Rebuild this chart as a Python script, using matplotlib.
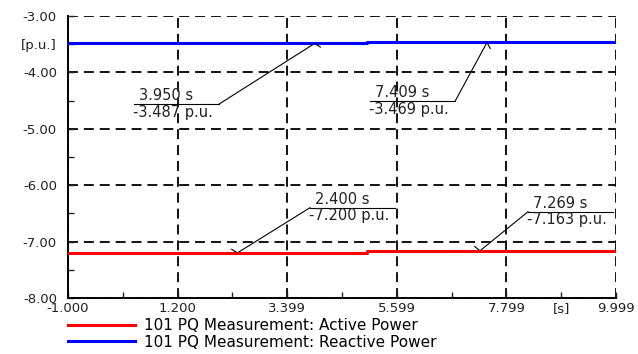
import matplotlib.pyplot as plt
import numpy as np

plt.rcParams['font.family'] = ['DejaVu Sans']

# ---- data ----
t_pts = [-1.0, 5.0, 9.999]
active_power = [-7.200, -7.163, -7.163]
reactive_power = [-3.487, -3.469, -3.469]

x_ticks = [-1.0, 1.2, 3.399, 5.599, 7.799, 9.999]
x_labels = ['-1.000', '1.200', '3.399', '5.599', '7.799', '9.999']
y_ticks = [-3.0, -4.0, -5.0, -6.0, -7.0, -8.0]

# cursor annotations: time, value
cur_t = [3.950, 7.409, 2.400, 7.269]
cur_v = [-3.487, -3.469, -7.200, -7.163]
# label box (left x, line y) in data units
box_x = [0.325, 5.062, 3.857, 8.233]
box_y = [-4.560, -4.507, -6.399, -6.470]
box_w = 1.71

# ---- figure ----
W, H = 638, 354
fig = plt.figure(figsize=(W / 100, H / 100), dpi=100)
ax = fig.add_axes([68 / W, 1 - 298 / H, (616 - 68) / W, (298 - 16) / H])

ax.plot(t_pts, active_power, drawstyle='steps-post', color='#ff0000', lw=2.2,
        label='101 PQ Measurement: Active Power', zorder=3)
ax.plot(t_pts, reactive_power, drawstyle='steps-post', color='#0000ff', lw=2.2,
        label='101 PQ Measurement: Reactive Power', zorder=3)

ax.set_xlim(-1.0, 9.999)
ax.set_ylim(-8.0, -3.0)

ax.set_xticks(x_ticks)
ax.set_xticklabels(x_labels)
ax.set_yticks(y_ticks)
ax.set_yticklabels(['%.2f' % v for v in y_ticks])

x_minor = [(a + b) / 2 for a, b in zip(x_ticks[:-1], x_ticks[1:])]
y_minor = [(a + b) / 2 for a, b in zip(y_ticks[:-1], y_ticks[1:])]
ax.set_xticks(x_minor, minor=True)
ax.set_xticklabels(['' if i < len(x_minor) - 1 else '[s]' for i in range(len(x_minor))],
                   minor=True)
ax.set_yticks(y_minor, minor=True)
ax.set_yticklabels(['[p.u.]' if i == 0 else '' for i in range(len(y_minor))], minor=True)

ax.tick_params(which='both', direction='in', length=4, width=1, colors='#222222',
               labelsize=9.5)
ax.tick_params(axis='y', which='both', pad=8)
ax.tick_params(axis='x', which='both', pad=3)

ax.grid(True, which='major', color='black', lw=1.3, ls=(0, (5.5, 3.3)))
for s in ['top', 'right']:
    ax.spines[s].set_visible(False)
for s in ['left', 'bottom']:
    ax.spines[s].set_linewidth(1.4)

# ---- cursor labels ----
for t, v, bx, by in zip(cur_t, cur_v, box_x, box_y):
    ax.plot([bx, bx + box_w], [by, by], color='black', lw=0.8)
    # leader attaches to the end of the label line nearest to the point
    ex = bx + box_w if t > bx + box_w / 2 else bx
    ax.plot([ex, t], [by, v], color='black', lw=0.8)
    # small mirrored stroke at the point
    p0 = ax.transData.transform((t, v))
    p1 = ax.transData.transform((ex, by))
    d = (p1 - p0) / np.hypot(*(p1 - p0)) * 7
    ax.annotate('', xy=(t, v), xytext=(-d[0] * 0.72, d[1] * 0.72),
                textcoords='offset points',
                arrowprops=dict(arrowstyle='-', color='black', lw=0.8,
                                shrinkA=0, shrinkB=0))
    ax.text(bx + 0.1, by + 0.01, '%.3f s' % t, fontsize=10.5, color='#222222',
            ha='left', va='bottom')
    ax.text(bx - 0.02, by - 0.01, '%.3f p.u.' % v, fontsize=10.5, color='#222222',
            ha='left', va='top')

ax.legend(loc='upper left', bbox_to_anchor=(68 / W, 1 - 318 / H),
          bbox_transform=fig.transFigure, frameon=False, fontsize=11,
          handlelength=4.4, handletextpad=0.6, borderpad=0, borderaxespad=0,
          labelspacing=0.12)

fig.savefig('out.png', dpi=100)
